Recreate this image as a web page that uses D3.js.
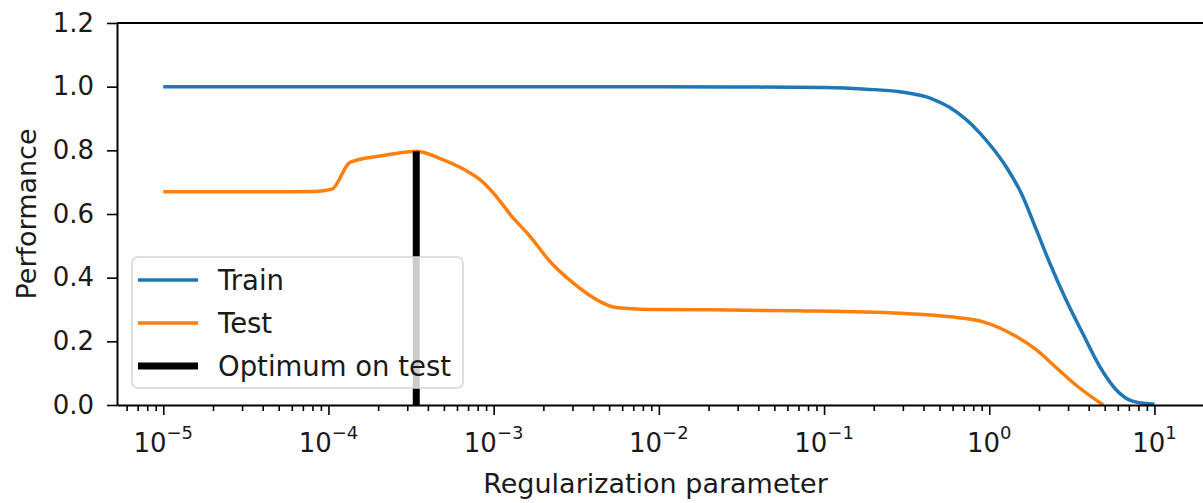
<!DOCTYPE html>
<html>
<head>
<meta charset="utf-8">
<script src="https://cdn.jsdelivr.net/npm/d3@7"></script>
<style>
  body { margin: 0; background: #fff; }
  text { font-family: "DejaVu Sans", sans-serif; fill: #1a1a1a; }
</style>
</head>
<body>
<svg id="chart" width="1203" height="503"></svg>
<script>
// values
const trainParam = [1e-5, 1e-4, 1e-3, 1e-2, 3e-2, 0.1, 0.18, 0.287, 0.45, 0.575, 0.875, 1.03, 1.26, 1.58, 1.93, 2.32, 2.92, 3.67, 4.65, 5.86, 7.36, 9.3, 10];
const trainScore = [1.0, 1.0, 1.0, 1.0, 0.999, 0.997, 0.992, 0.984, 0.962, 0.935, 0.855, 0.812, 0.75, 0.66, 0.55, 0.447, 0.33, 0.226, 0.122, 0.048, 0.012, 0.004, 0.003];

const testParam = [1e-5, 5e-5, 8.3e-5, 1.05e-4, 1.35e-4, 2.05e-4, 3.0e-4, 3.4e-4, 4.7e-4, 6.5e-4, 8.3e-4, 1.0e-3, 1.3e-3, 1.66e-3, 2.2e-3, 3.0e-3, 4.4e-3, 5.5e-3, 8.8e-3, 2e-2, 7e-2, 0.29, 0.58, 0.91, 1.46, 1.93, 2.54, 3.36, 4.9];
const testScore = [0.670, 0.670, 0.671, 0.678, 0.762, 0.782, 0.795, 0.797, 0.775, 0.742, 0.707, 0.665, 0.59, 0.53, 0.45, 0.385, 0.325, 0.306, 0.300, 0.299, 0.296, 0.288, 0.277, 0.262, 0.215, 0.173, 0.118, 0.062, 0.0];

const yTicks = [0, 0.2, 0.4, 0.6, 0.8, 1.0, 1.2];
const xTickExp = [-5, -4, -3, -2, -1, 0, 1];
const legendLabels = ["Train", "Test", "Optimum on test"];

const svg = d3.select("#chart");
const margin = { left: 117, right: 1204, top: 23, bottom: 405 };

const x = d3.scaleLog()
  .domain([Math.pow(10, -5.28), Math.pow(10, 1.3)])
  .range([margin.left, margin.right]);
const y = d3.scaleLinear()
  .domain([0, 1.2])
  .range([margin.bottom, margin.top]);

svg.append("clipPath").attr("id", "plot")
  .append("rect")
  .attr("x", margin.left).attr("y", margin.top)
  .attr("width", margin.right - margin.left).attr("height", margin.bottom - margin.top);

const line = d3.line()
  .x(d => x(d[0]))
  .y(d => y(d[1]))
  .curve(d3.curveMonotoneX);

const train = trainParam.map((p, i) => [p, trainScore[i]]);
const test = testParam.map((p, i) => [p, testScore[i]]);

svg.append("path")
  .datum(train)
  .attr("clip-path", "url(#plot)")
  .attr("fill", "none")
  .attr("stroke", "#1f77b4")
  .attr("stroke-width", 3.5)
  .attr("d", line);

svg.append("path")
  .datum(test)
  .attr("clip-path", "url(#plot)")
  .attr("fill", "none")
  .attr("stroke", "#ff7f0e")
  .attr("stroke-width", 3.5)
  .attr("d", line);

// optimum on test = best test score
const best = d3.maxIndex(testScore);
svg.append("line")
  .attr("x1", x(testParam[best])).attr("x2", x(testParam[best]))
  .attr("y1", y(0)).attr("y2", y(testScore[best]))
  .attr("stroke", "#000")
  .attr("stroke-width", 7);

// y axis
const yAxis = svg.append("g")
  .attr("transform", "translate(" + margin.left + ",0)")
  .call(d3.axisLeft(y).tickValues(yTicks).tickFormat(d3.format(".1f"))
    .tickSize(10).tickSizeOuter(0).tickPadding(13));

// x axis, major and minor ticks
const minor = [];
for (let e = -6; e <= 1; e++) {
  for (let m = 2; m <= 9; m++) {
    const v = m * Math.pow(10, e);
    if (v >= x.domain()[0] && v <= x.domain()[1]) minor.push(v);
  }
}
const xAxis = svg.append("g")
  .attr("transform", "translate(0," + margin.bottom + ")")
  .call(d3.axisBottom(x).tickValues(xTickExp.map(e => Math.pow(10, e)))
    .tickFormat("").tickSize(10).tickSizeOuter(0));
svg.append("g")
  .attr("transform", "translate(0," + margin.bottom + ")")
  .call(d3.axisBottom(x).tickValues(minor).tickFormat("").tickSize(6).tickSizeOuter(0))
  .select(".domain").remove();

svg.selectAll(".domain").attr("stroke", "#000").attr("stroke-width", 2);
svg.selectAll(".tick line").attr("stroke", "#000").attr("stroke-width", 1.6);
yAxis.selectAll("text").style("font-size", "26px").attr("fill", "#1a1a1a");

const xl = svg.append("g").selectAll("text")
  .data(xTickExp)
  .join("text")
  .attr("x", d => x(Math.pow(10, d)))
  .attr("y", margin.bottom + 47)
  .attr("text-anchor", "middle")
  .style("font-size", "26px");
xl.append("tspan").text("10");
xl.append("tspan")
  .attr("dy", -13)
  .style("font-size", "18px")
  .text(d => d < 0 ? "\u2212" + (-d) : String(d));

// top and right spines
svg.append("line")
  .attr("x1", margin.left).attr("x2", margin.right)
  .attr("y1", margin.top).attr("y2", margin.top)
  .attr("stroke", "#000").attr("stroke-width", 2);
svg.append("line")
  .attr("x1", margin.right).attr("x2", margin.right)
  .attr("y1", margin.top).attr("y2", margin.bottom)
  .attr("stroke", "#000").attr("stroke-width", 2);

// axis titles
svg.append("text")
  .attr("x", (margin.left + margin.right) / 2 - 5)
  .attr("y", 493)
  .attr("text-anchor", "middle")
  .style("font-size", "27px")
  .text("Regularization parameter");

svg.append("text")
  .attr("transform", "translate(36," + (margin.top + margin.bottom) / 2 + ") rotate(-90)")
  .attr("text-anchor", "middle")
  .style("font-size", "27px")
  .text("Performance");

// legend
const legend = svg.append("g").attr("transform", "translate(132,257)");
legend.append("rect")
  .attr("width", 331).attr("height", 131)
  .attr("rx", 6)
  .attr("fill", "#fff").attr("fill-opacity", 0.8)
  .attr("stroke", "#d4d4d4").attr("stroke-width", 1.5);
const legColors = ["#1f77b4", "#ff7f0e", "#000"];
const legWidths = [3.5, 3.5, 7];
const item = legend.selectAll(".item")
  .data(legendLabels)
  .join("g")
  .attr("transform", (d, i) => "translate(0," + (23 + i * 43) + ")");
item.append("line")
  .attr("x1", 6).attr("x2", 66)
  .attr("stroke", (d, i) => legColors[i])
  .attr("stroke-width", (d, i) => legWidths[i]);
item.append("text")
  .attr("x", 86)
  .attr("dy", "0.36em")
  .style("font-size", "27.5px")
  .text(d => d);
</script>
</body>
</html>
